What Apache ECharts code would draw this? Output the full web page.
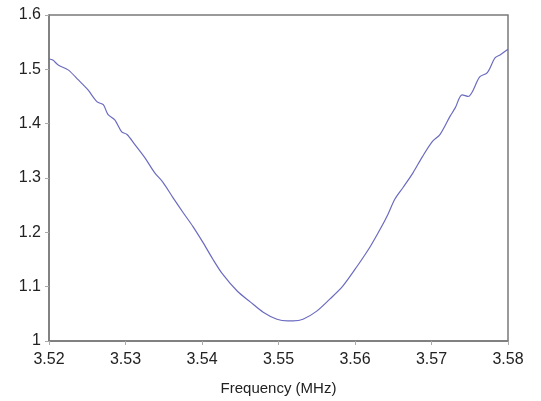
<!DOCTYPE html>
<html>
<head>
<meta charset="utf-8">
<script src="https://cdn.jsdelivr.net/npm/echarts@6/dist/echarts.min.js"></script>
<style>html,body{margin:0;padding:0;background:#fff;}#c{width:541px;height:401px;}</style>
</head>
<body>
<div id="c"></div>
<script>
var frequency = [3.5200,3.5205,3.5212,3.5225,3.5238,3.5251,3.5263,3.5271,3.5277,3.5286,3.5295,3.5302,3.5312,3.5325,3.5338,3.5349,3.5362,3.5375,3.5388,3.5401,3.5414,3.5427,3.5446,3.5463,3.5480,3.5498,3.5512,3.5519,3.5532,3.5550,3.5567,3.5584,3.5603,3.5620,3.5633,3.5643,3.5652,3.5663,3.5676,3.5688,3.5701,3.5711,3.5724,3.5731,3.5740,3.5748,3.5763,3.5773,3.5783,3.5790,3.5800];
var vswr = [1.519,1.517,1.508,1.499,1.481,1.462,1.440,1.435,1.417,1.407,1.385,1.380,1.362,1.338,1.310,1.292,1.264,1.237,1.211,1.182,1.151,1.123,1.092,1.072,1.053,1.040,1.037,1.037,1.040,1.055,1.077,1.101,1.138,1.174,1.206,1.233,1.261,1.283,1.310,1.339,1.367,1.380,1.413,1.429,1.453,1.450,1.486,1.494,1.521,1.527,1.537];
var xTicks = [3.52,3.53,3.54,3.55,3.56,3.57,3.58];
var yTicks = [1,1.1,1.2,1.3,1.4,1.5,1.6];
var xTitle = 'Frequency (MHz)';

var pts = frequency.map(function(f,i){return [f, vswr[i]];});
var chart = echarts.init(document.getElementById('c'));
var axisCol = '#7a7a7a';
var txt = {color:'#222', fontFamily:'Liberation Sans, Arial, sans-serif', fontSize:16};
chart.setOption({
  animation:false,
  grid:{left:49,right:33,top:15,bottom:59,show:true,borderColor:axisCol,borderWidth:1.5,backgroundColor:'#fff'},
  xAxis:{type:'value',min:3.52,max:3.58,interval:0.01,
    name:xTitle,nameLocation:'middle',nameGap:40,nameTextStyle:{color:'#222',fontFamily:'Liberation Sans, Arial, sans-serif',fontSize:15},
    axisLine:{lineStyle:{color:axisCol,width:1.5}},
    axisTick:{show:true,length:4,lineStyle:{color:'#aaa'}},
    splitLine:{show:false},
    axisLabel:Object.assign({margin:11,formatter:function(v){return xTicks.find(function(t){return Math.abs(t-v)<1e-6;})!==undefined?v.toFixed(2):'';}},txt)},
  yAxis:{type:'value',min:1,max:1.6,interval:0.1,
    axisLine:{show:true,lineStyle:{color:axisCol,width:1.5}},
    axisTick:{show:true,length:4,lineStyle:{color:'#aaa'}},
    splitLine:{show:false},
    axisLabel:Object.assign({margin:8,formatter:function(v){var r=Math.round(v*10)/10;return String(r);}},txt)},
  series:[{type:'line',data:pts,showSymbol:false,smooth:0.3,lineStyle:{color:'#6b6bc0',width:1.2}}]
});
</script>
</body>
</html>
